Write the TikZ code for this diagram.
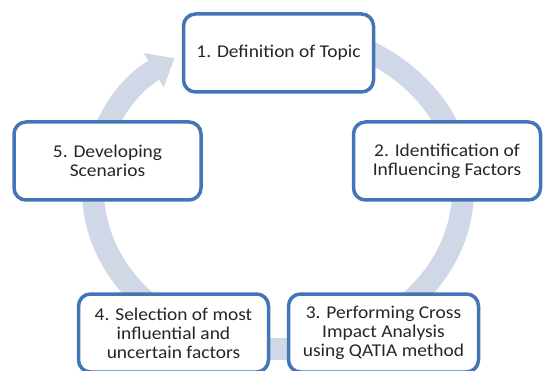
\documentclass[tikz,border=0pt]{standalone}
\usepackage{fontspec}
\setmainfont{Carlito}[FakeStretch=1.08]
\usetikzlibrary{arrows.meta}
\definecolor{ringblue}{RGB}{208,216,232}
\definecolor{boxblue}{RGB}{68,117,182}
\definecolor{txt}{RGB}{38,38,38}

\begin{document}
\begin{tikzpicture}[x=1pt,y=1pt,
  stage/.style={draw=boxblue,line width=3.5pt,rounded corners=12pt,fill=white,
    minimum width=190pt,minimum height=78pt,align=center,text=txt,
    font=\fontsize{18}{19}\selectfont},
  ringarrow/.style={draw=ringblue,line width=22pt,-{Triangle[length=24pt,width=38pt]}}]
  \useasboundingbox (0,0) rectangle (544,370);
  \coordinate (O) at (278,180);
  \draw[ringarrow] ([shift={(100:185pt and 159pt)}]O)
    arc[start angle=100,end angle=-236,x radius=185pt,y radius=159pt];
  \node[stage] (T) at (278.5,317) {1. Definition of Topic};
  \node[stage,minimum width=187pt] (I) at (447,209) {2. Identification of\\Influencing Factors};
  \node[stage] (C) at (383.5,37) {3. Performing Cross\\Impact Analysis\\using QATIA method};
  \node[stage] (S) at (173.5,37) {4. Selection of most\\influential and\\uncertain factors};
  \node[stage,minimum width=187pt] (D) at (107.5,209) {5. Developing\\Scenarios};
\end{tikzpicture}
\end{document}
